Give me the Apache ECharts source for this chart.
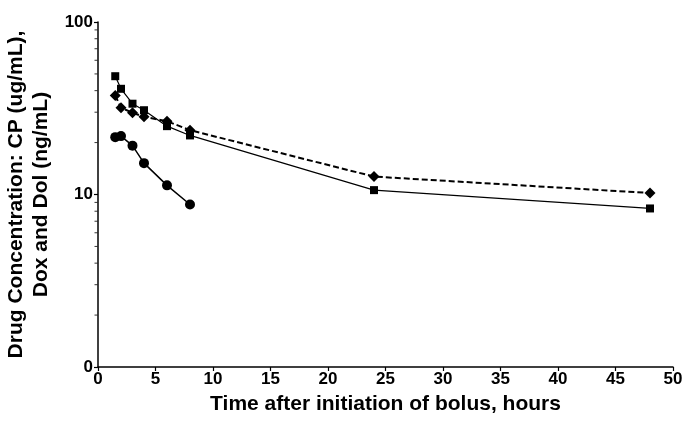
<!DOCTYPE html>
<html><head><meta charset="utf-8">
<script src="https://cdn.jsdelivr.net/npm/echarts@6/dist/echarts.min.js"></script>
<style>html,body{margin:0;padding:0;background:#fff}#c{width:683px;height:421px}</style>
</head><body><div id="c"></div>
<script>
var times = [1.5, 2, 3, 4, 6, 8, 24, 48];
var timesShort = [1.5, 2, 3, 4, 6, 8];
var squareVals = [48.5, 41, 33.6, 30.8, 24.9, 22.0, 10.6, 8.3];
var diamondVals = [37.5, 31.8, 29.8, 28.2, 26.6, 23.6, 12.7, 10.2];
var circleVals = [21.5, 21.8, 19.2, 15.2, 11.3, 8.75];
var minorTickVals = [2,3,4,5,6,7,8,9,20,30,40,50,60,70,80,90];
var xTicks = [0,5,10,15,20,25,30,35,40,45,50];

function pairs(xs, ys){ return xs.map(function(x,i){ return [x, ys[i]]; }); }
var font = 'Liberation Sans, Arial, sans-serif';
var chart = echarts.init(document.getElementById('c'));
chart.setOption({
  animation: false,
  grid: {left: 98, right: 10, top: 22, bottom: 54, containLabel: false, outerBoundsMode: 'none'},
  xAxis: {
    type: 'value', min: 0, max: 50, interval: 5,
    name: 'Time after initiation of bolus, hours', nameLocation: 'middle', nameGap: 27,
    nameTextStyle: {fontFamily: font, fontWeight: 'bold', fontSize: 21, color: '#000'},
    axisLine: {lineStyle: {color: '#000', width: 1.5}},
    axisTick: {length: 4, lineStyle: {color: '#000', width: 1.2}},
    axisLabel: {fontFamily: font, fontWeight: 'bold', fontSize: 17, color: '#000', margin: 4},
    splitLine: {show: false}
  },
  yAxis: {
    type: 'log', logBase: 10, min: 1, max: 100,
    name: 'Drug Concentration: CP (ug/mL),\nDox and Dol (ng/mL)', nameLocation: 'middle', nameGap: 36,
    nameTextStyle: {fontFamily: font, fontWeight: 'bold', fontSize: 21, color: '#000', lineHeight: 25},
    axisLine: {show: true, lineStyle: {color: '#000', width: 1.5}},
    axisTick: {length: 4, lineStyle: {color: '#000', width: 1.2}},
    axisLabel: {fontFamily: font, fontWeight: 'bold', fontSize: 17, color: '#000', margin: 5,
      formatter: function(v){ return v === 1 ? '0' : String(v); }},
    splitLine: {show: false}
  },
  series: [
    {type: 'scatter', data: minorTickVals.map(function(v){ return [0, v]; }), symbol: 'rect',
     symbolSize: [3, 1], symbolOffset: [-2, 0], itemStyle: {color: '#000'}, silent: true, clip: false, z: 1},
    {type: 'line', data: pairs(times, squareVals), symbol: 'rect', symbolSize: 8,
     lineStyle: {color: '#000', width: 1.2}, itemStyle: {color: '#000'}},
    {type: 'line', data: pairs(times, diamondVals), symbol: 'diamond', symbolSize: 11,
     lineStyle: {color: '#000', width: 2, type: [6, 3]}, itemStyle: {color: '#000'}},
    {type: 'line', data: pairs(timesShort, circleVals), symbol: 'circle', symbolSize: 10,
     lineStyle: {color: '#000', width: 1.5}, itemStyle: {color: '#000'}}
  ]
});
</script></body></html>
